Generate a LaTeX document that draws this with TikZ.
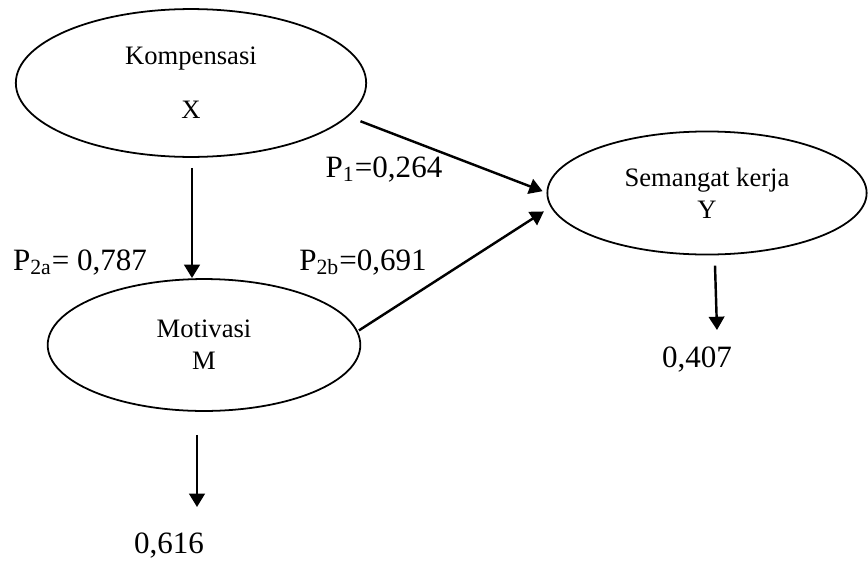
\documentclass[tikz,border=0pt]{standalone}
\usepackage{fontspec}
\setmainfont{Liberation Serif}
\usetikzlibrary{shapes.geometric,arrows.meta,calc}

\begin{document}
\begin{tikzpicture}[x=0.451pt,y=-0.451pt,
    variabel/.style={ellipse,draw,line width=0.8pt,inner sep=0pt,outer sep=0pt,align=center,font=\fontsize{12}{14.4}\selectfont},
    jalur/.style={-{Triangle[length=6pt,width=7pt]},line width=1.1pt},
    koef/.style={anchor=base,inner sep=0pt,font=\fontsize{14}{16}\selectfont}]
        \useasboundingbox (0,0) rectangle (868,560);
        % 绘制变量椭圆
        \node[variabel,minimum width=158pt,minimum height=66.7pt] (komp) at (191,83) {Kompensasi\\[10pt]X};
        \node[variabel,minimum width=141pt,minimum height=59.5pt] (motiv) at (204,345) {Motivasi\\M};
        \node[variabel,minimum width=144pt,minimum height=55.5pt] (seman) at (707,193) {Semangat kerja\\Y};

        % 路径箭头
        \draw[jalur] ($(komp.south)+(1,11)$) -- ($(komp.south |- motiv.north)+(1,-1)$);
        \draw[jalur,shorten <=6.3pt,shorten >=2.3pt] (komp.-12) -- (seman.west);
        \draw[jalur,shorten <=1pt,shorten >=4pt] (motiv.5) -- (seman.185);

        % 残差箭头
        \coordinate (yerr) at (717,330);
        \coordinate (merr) at (197,507);
        \draw[jalur] ($(seman.south)+(8,11)$) -- (yerr);
        \draw[jalur] ($(motiv.south)+(-7,24)$) -- (merr);

        % 标注系数
        \node[koef] (p1) at (384,177) {P\textsubscript{1}=0,264};
        \node[koef] (p2a) at (80,270) {P\textsubscript{2a}= 0,787};
        \node[koef] (p2b) at (363,270) {P\textsubscript{2b}=0,691};
        \node[koef] (ry) at (697,367) {0,407};
        \node[koef] (rm) at (169,553) {0,616};
      \end{tikzpicture}
\end{document}
